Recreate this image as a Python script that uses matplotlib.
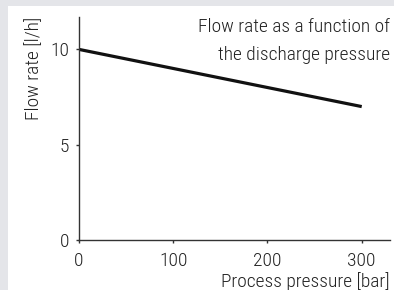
import matplotlib
matplotlib.use("Agg")
import matplotlib.pyplot as plt
from matplotlib import font_manager
from matplotlib.patches import Rectangle

# data
pressure = [0, 300]
flow = [10, 7]
x_ticks = [0, 100, 200, 300]
y_ticks = [0, 5, 10]
title_lines = ["Flow rate as a function of", "the discharge pressure"]

# narrow font if one is around
names = {f.name for f in font_manager.fontManager.ttflist}
family = "DejaVu Sans"
for cand in ["Liberation Sans Narrow", "Roboto Condensed", "Open Sans Condensed", "DejaVu Sans Condensed"]:
    if cand in names:
        family = cand
        break
plt.rcParams["font.family"] = [family, "DejaVu Sans"]
plt.rcParams["font.stretch"] = "condensed"
plt.rcParams["font.weight"] = "light"
plt.rcParams["axes.labelweight"] = "light"

fs = 14 if family != "DejaVu Sans" else 11
txt = "#222222"

fig = plt.figure(figsize=(3.94, 2.90), dpi=100, facecolor="#e4e5e9")
fig.patches.append(Rectangle((8 / 394, 0), 1, 1 - 6 / 290, transform=fig.transFigure,
                             facecolor="white", edgecolor="none", zorder=-10))

ax = fig.add_axes([79 / 394, 50 / 290, 311 / 394, 223 / 290])
ax.set_facecolor("none")
ax.plot(pressure, flow, color="#111111", linewidth=2.3, solid_capstyle="butt")

ax.set_xlim(0, 330)
ax.set_ylim(0, 11.7)
ax.set_xticks(x_ticks)
ax.set_yticks(y_ticks)
ax.spines[["top", "right"]].set_visible(False)
for s in ["left", "bottom"]:
    ax.spines[s].set_color("#333333")
    ax.spines[s].set_linewidth(1.0)
ax.tick_params(direction="out", length=2, width=1, color="#333333",
               labelsize=fs, labelcolor=txt)
ax.tick_params(axis="x", pad=7)
ax.tick_params(axis="y", pad=5)

# two-line note, top right
for y, line in zip([0.933, 0.807], title_lines):
    ax.text(1.0, y, line, transform=ax.transAxes, ha="right", va="baseline",
            fontsize=fs, color=txt)
ax.set_xlabel("Process pressure [bar]", fontsize=fs, color=txt, loc="right", labelpad=1)
ax.set_ylabel("Flow rate [l/h]", fontsize=fs, color=txt, loc="top", labelpad=5)

fig.savefig("out.png", dpi=100, facecolor=fig.get_facecolor())
